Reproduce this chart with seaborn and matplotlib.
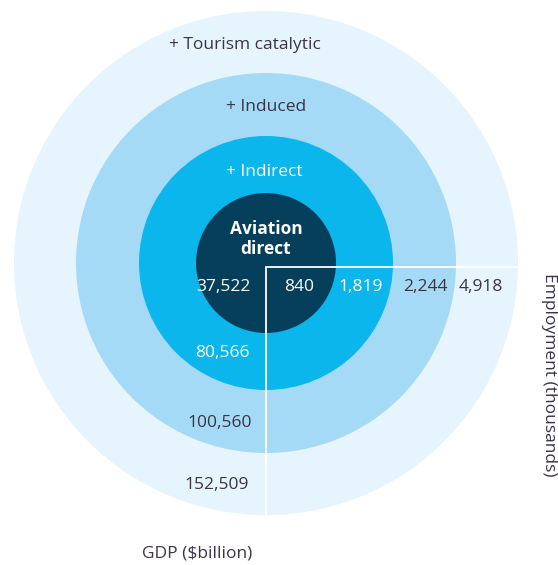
import matplotlib.pyplot as plt
import seaborn as sns
from matplotlib.patches import Circle

# layers, from the outside in
layers = ['+ Tourism catalytic', '+ Induced', '+ Indirect', 'Aviation\ndirect']
employment = ['4,918', '2,244', '1,819', '840']      # thousands
gdp = ['152,509', '100,560', '80,566', '37,522']     # $billion

colors = ['#e6f4fd', '#a5daf6', '#0bb6ec', '#063f5b']
radii = [252, 190, 127, 70]
txt_col = ['#3b3446', '#3b3446', 'white', 'white']

sns.set_theme(style='white')
plt.rcParams['font.family'] = ['Open Sans', 'DejaVu Sans']

fig = plt.figure(figsize=(5.58, 5.65), dpi=100)
ax = fig.add_axes([0, 0, 1, 1])
ax.set_xlim(0, 558)
ax.set_ylim(565, 0)
ax.set_aspect('equal')
ax.axis('off')

cx, cy = 266, 263
for r, c in zip(radii, colors):
    ax.add_patch(Circle((cx, cy), r, color=c, lw=0))

# white axis lines
ax.plot([266, 518], [267, 267], color='white', lw=1.3)
ax.plot([266, 266], [267, 515], color='white', lw=1.3)

fs = 12.5
# layer titles
title_pos = [(245, 45), (266, 107), (264, 172)]
for name, (x, y), col in zip(layers[:3], title_pos, txt_col[:3]):
    ax.text(x, y, name, ha='center', va='center', color=col, fontsize=fs)
ax.text(cx, 239, layers[3], ha='center', va='center', color='white',
        fontsize=fs, fontweight='bold', linespacing=1.1)

# employment row
emp_x = [481, 425, 361, 299]
for v, x, col in zip(employment, emp_x, txt_col):
    ax.text(x, 287, v, ha='center', va='center', color=col, fontsize=fs)

# gdp column
gdp_pos = [(217, 485), (220, 423), (222, 353), (223, 287)]
for v, (x, y), col in zip(gdp, gdp_pos, txt_col):
    ax.text(x, y, v, ha='center', va='center', color=col, fontsize=fs)

ax.text(197, 554, 'GDP ($billion)', ha='center', va='center',
        color='#3b3446', fontsize=fs)
ax.text(549, 375, 'Employment (thousands)', ha='center', va='center',
        rotation=-90, color='#3b3446', fontsize=fs)

fig.savefig('out.png', dpi=100)
